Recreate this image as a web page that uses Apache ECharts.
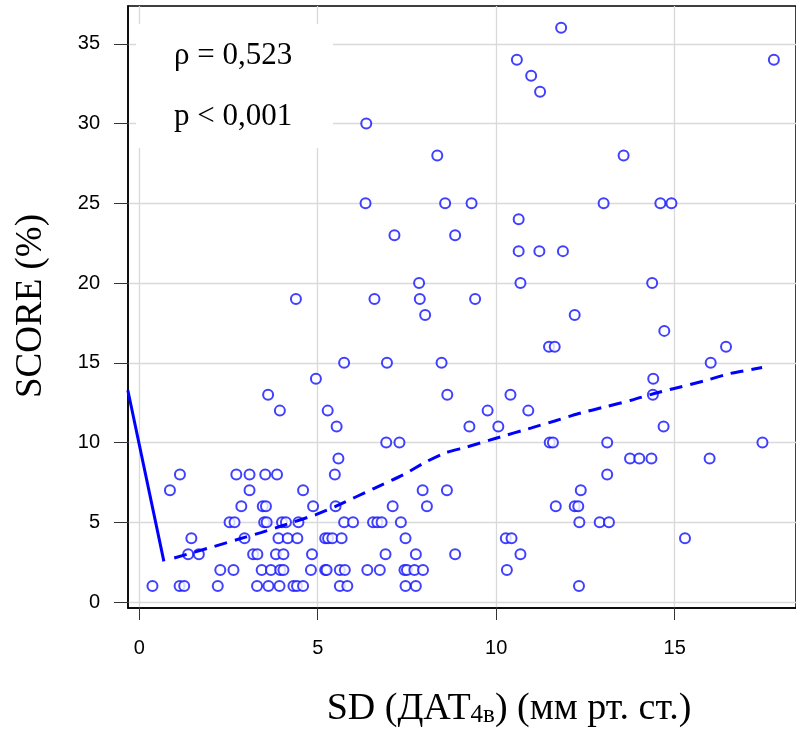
<!DOCTYPE html>
<html><head><meta charset="utf-8">
<script src="https://cdn.jsdelivr.net/npm/echarts@6/dist/echarts.min.js"></script>
<style>html,body{margin:0;padding:0;background:#fff}#c{width:796px;height:733px}</style>
</head><body><div id="c"></div>
<script>
const xTicks = [0, 5, 10, 15];
const yTicks = [0, 5, 10, 15, 20, 25, 30, 35];
const xTitleMain1 = 'SD (ДАТ';
const xTitleSub = '4в';
const xTitleMain2 = ') (мм рт. ст.)';
const yTitle = 'SCORE (%)';
const statRho = 'ρ = 0,523';
const statP = 'p < 0,001';

// [SD, SCORE]
const points = [
  [11.82,36],
  [10.58,34],[17.78,34],
  [10.98,33],
  [11.23,32],
  [6.36,30],
  [8.35,28],[13.57,28],
  [6.34,25],[8.57,25],[9.31,25],[13.01,25],[14.60,25],[14.91,25],
  [10.63,24],
  [7.15,23],[8.85,23],
  [10.63,22],[11.21,22],[11.87,22],
  [7.84,20],[10.68,20],[14.37,20],
  [4.39,19],[6.59,19],[7.86,19],[9.41,19],
  [8.01,18],[12.2,18],
  [14.71,17],
  [11.48,16],[11.64,16],[16.44,16],
  [5.74,15],[6.94,15],[8.47,15],[16.01,15],
  [4.95,14],[14.4,14],
  [3.61,13],[8.63,13],[10.4,13],[14.39,13],
  [3.94,12],[5.28,12],[9.76,12],[10.9,12],
  [5.53,11],[9.25,11],[10.06,11],[14.69,11],
  [6.92,10],[7.29,10],[11.5,10],[11.59,10],[13.11,10],[17.46,10],
  [5.58,9],[13.75,9],[14.01,9],[14.35,9],[15.98,9],
  [1.14,8],[2.72,8],[3.09,8],[3.53,8],[3.86,8],[5.48,8],[13.11,8],
  [0.86,7],[3.09,7],[4.59,7],[7.94,7],[8.62,7],[12.37,7],
  [2.86,6],[3.46,6],[3.55,6],[4.87,6],[5.5,6],[7.1,6],[8.06,6],[11.67,6],[12.2,6],[12.3,6],
  [2.53,5],[2.67,5],[3.5,5],[3.57,5],[4.0,5],[4.11,5],[4.46,5],[5.74,5],[5.99,5],[6.55,5],[6.67,5],[6.79,5],[7.33,5],[12.33,5],[12.9,5],[13.16,5],
  [1.46,4],[2.95,4],[3.9,4],[4.16,4],[4.43,4],[5.21,4],[5.29,4],[5.41,4],[5.67,4],[7.46,4],[10.27,4],[10.43,4],[15.29,4],
  [1.37,3],[1.67,3],[3.19,3],[3.31,3],[3.83,3],[4.04,3],[4.84,3],[6.9,3],[7.75,3],[8.85,3],[10.68,3],
  [2.27,2],[2.64,2],[3.43,2],[3.69,2],[3.95,2],[4.04,2],[4.81,2],[5.21,2],[5.25,2],[5.62,2],[5.76,2],[6.39,2],[6.74,2],[7.43,2],[7.5,2],[7.71,2],[7.95,2],[10.3,2],
  [0.37,1],[1.13,1],[1.26,1],[2.2,1],[3.3,1],[3.62,1],[3.93,1],[4.32,1],[4.42,1],[4.59,1],[5.62,1],[5.83,1],[7.46,1],[7.75,1],[12.32,1]
];

const trendSolid = [[-0.32,13.28],[0.69,2.55]];
const trendDashed = [[0.98,2.76],[2,3.42],[3,4.08],[3.41,4.35],[4,4.78],[4.95,5.48],[5.5,6.0],[6.57,7.11],[7.46,8.05],[8.0,8.75],[8.57,9.35],[9.18,9.72],[9.97,10.25],[10.99,10.92],[11.64,11.35],[12.29,11.8],[13.13,12.28],[13.78,12.65],[14.43,13.07],[14.99,13.39],[15.82,13.86],[16.56,14.33],[17.45,14.7]];

const chart = echarts.init(document.getElementById('c'), null, {renderer: 'canvas'});
const labelFont = {fontFamily: 'Liberation Sans', fontSize: 20, color: '#000'};
const serif = 'Liberation Serif';

chart.setOption({
  animation: false,
  backgroundColor: '#fff',
  grid: {left: 128, top: 6, right: -3, bottom: 125, show: true, borderColor: '#000', borderWidth: 1.5, backgroundColor: 'transparent'},
  xAxis: {
    type: 'value', min: -0.315, max: 18.40,
    axisLine: {show: true, onZero: false, lineStyle: {color: '#000', width: 1.5}},
    axisTick: {show: true, customValues: xTicks, length: 12, lineStyle: {color: '#333', width: 1}},
    axisLabel: Object.assign({customValues: xTicks, margin: 30}, labelFont),
    splitLine: {show: true, lineStyle: {color: '#d9d9d9', width: 1.3}}
  },
  yAxis: {
    type: 'value', min: -0.376, max: 37.37,
    axisLine: {show: true, onZero: false, lineStyle: {color: '#000', width: 1.5}},
    axisTick: {show: true, customValues: yTicks, length: 14, lineStyle: {color: '#333', width: 1}},
    axisLabel: Object.assign({customValues: yTicks, margin: 28}, labelFont),
    splitLine: {show: true, lineStyle: {color: '#d9d9d9', width: 1.3}}
  },
  series: [
    {type: 'scatter', data: points, symbol: 'emptyCircle', symbolSize: 10,
     itemStyle: {color: '#1010ff', borderWidth: 1.2}, z: 3},
    {type: 'line', data: trendSolid, showSymbol: false, symbol: 'none',
     lineStyle: {color: '#0000ff', width: 3}, z: 4},
    {type: 'line', data: trendDashed, showSymbol: false, symbol: 'none', smooth: 0.2,
     lineStyle: {color: '#0000ff', width: 3, type: [13, 8]}, z: 4}
  ],
  graphic: [
    {type: 'rect', shape: {x: 136, y: 24, width: 197, height: 124}, style: {fill: '#fff'}, z: 50},
    {type: 'text', x: 174, y: 56, z: 51, style: {text: statRho, font: '31px "Liberation Serif"', fill: '#000', verticalAlign: 'middle'}},
    {type: 'text', x: 174, y: 117, z: 51, style: {text: statP, font: '31px "Liberation Serif"', fill: '#000', verticalAlign: 'middle'}},
    {type: 'text', x: 31, y: 306, rotation: Math.PI / 2, z: 51,
     style: {text: yTitle, font: '37px "Liberation Serif"', fill: '#000', align: 'center', verticalAlign: 'middle'}},
    {type: 'text', x: 509, y: 709, z: 51,
     style: {
       text: '{a|' + xTitleMain1 + '}{s|' + xTitleSub + '}{a|' + xTitleMain2 + '}',
       align: 'center', verticalAlign: 'middle',
       rich: {
         a: {fontFamily: serif, fontSize: 38, lineHeight: 38, fill: '#000', color: '#000'},
         s: {fontFamily: serif, fontSize: 25, lineHeight: 25, fill: '#000', color: '#000', verticalAlign: 'bottom'}
       }
     }}
  ]
});
</script>
</body></html>
